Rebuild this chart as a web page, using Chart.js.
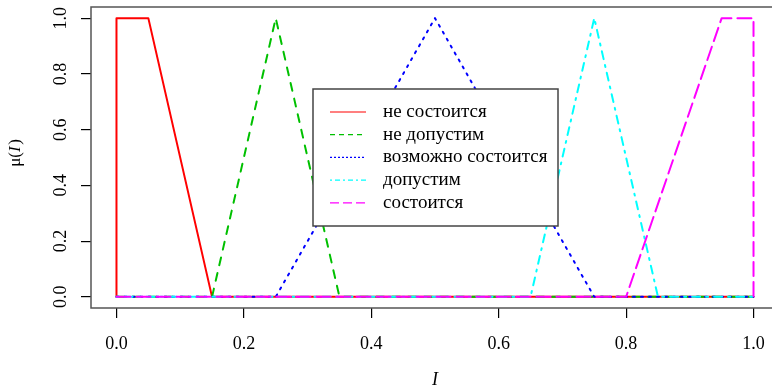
<!DOCTYPE html>
<html>
<head>
<meta charset="utf-8">
<script src="https://cdn.jsdelivr.net/npm/chart.js@4.4.0/dist/chart.umd.min.js"></script>
<style>
  html, body { margin: 0; padding: 0; background: #fff; overflow: hidden; }
  #wrap { width: 772px; height: 388px; overflow: hidden; }
</style>
</head>
<body>
<div id="wrap"><canvas id="fuzzyChart" width="779" height="388"></canvas></div>
<script>
// Данные функций принадлежности (точки излома)
const seriesNames = ["не состоится", "не допустим", "возможно состоится", "допустим", "состоится"];
const xNeSostoitsya = [0, 0, 0.05, 0.15, 1];
const yNeSostoitsya = [0, 1, 1, 0, 0];
const xNeDopustim = [0, 0.15, 0.25, 0.35, 1];
const yNeDopustim = [0, 0, 1, 0, 0];
const xVozmozhno = [0, 0.25, 0.5, 0.75, 1];
const yVozmozhno = [0, 0, 1, 0, 0];
const xDopustim = [0, 0.65, 0.75, 0.85, 1];
const yDopustim = [0, 0, 1, 0, 0];
const xSostoitsya = [0, 0.8, 0.95, 1, 1];
const ySostoitsya = [0, 0, 1, 1, 0];

const xTicks = [0, 0.2, 0.4, 0.6, 0.8, 1.0];
const yTicks = [0, 0.2, 0.4, 0.6, 0.8, 1.0];

const seriesX = [xNeSostoitsya, xNeDopustim, xVozmozhno, xDopustim, xSostoitsya];
const seriesY = [yNeSostoitsya, yNeDopustim, yVozmozhno, yDopustim, ySostoitsya];
const colors = ['#FF0000', '#00C000', '#0000FF', '#00FFFF', '#FF00FF'];
const dashes = [[], [8, 8], [2, 6], [2, 6, 8, 6], [14, 6]];
const legendDashes = [[], [5, 4], [2, 2], [2, 3, 5, 3], [9, 4]];

const serif = "'Liberation Serif', 'DejaVu Serif', serif";

function toPoints(xs, ys) {
    return xs.map((x, i) => ({ x: x, y: ys[i] }));
}

// Рамка вокруг области графика
const boxPlugin = {
    id: 'box',
    afterDraw(chart) {
        const a = chart.chartArea;
        const ctx = chart.ctx;
        ctx.save();
        ctx.strokeStyle = '#555';
        ctx.lineWidth = 1.5;
        ctx.strokeRect(a.left, a.top, a.right - a.left, a.bottom - a.top);
        ctx.restore();
    }
};

// Легенда внутри графика (как в R)
const legendPlugin = {
    id: 'rLegend',
    afterDraw(chart) {
        const ctx = chart.ctx;
        const x0 = 313, y0 = 89, w = 245, h = 137;
        ctx.save();
        ctx.fillStyle = '#fff';
        ctx.fillRect(x0, y0, w, h);
        ctx.strokeStyle = '#444';
        ctx.lineWidth = 1.5;
        ctx.strokeRect(x0, y0, w, h);
        ctx.font = '19px ' + serif;
        ctx.textBaseline = 'middle';
        ctx.textAlign = 'left';
        chart.data.datasets.forEach((ds, i) => {
            const yy = y0 + 23 + i * 22.7;
            ctx.strokeStyle = ds.borderColor;
            ctx.lineWidth = 1.2;
            ctx.setLineDash(legendDashes[i]);
            ctx.beginPath();
            ctx.moveTo(330, yy);
            ctx.lineTo(366, yy);
            ctx.stroke();
            ctx.setLineDash([]);
            ctx.fillStyle = '#000';
            ctx.fillText(ds.label, 383, yy);
        });
        ctx.restore();
    }
};

// Подпись оси Y: μ(I) с курсивной I
const yTitlePlugin = {
    id: 'yTitle',
    afterDraw(chart) {
        const ctx = chart.ctx;
        ctx.save();
        ctx.translate(16, 153);
        ctx.rotate(-Math.PI / 2);
        ctx.fillStyle = '#000';
        ctx.textBaseline = 'middle';
        const parts = [['μ(', '17px ' + serif], ['I', 'italic 17px ' + serif], [')', '17px ' + serif]];
        let total = 0;
        parts.forEach(p => { ctx.font = p[1]; total += ctx.measureText(p[0]).width + (p[0] === 'I' ? 1.5 : 0); });
        let x = -total / 2;
        parts.forEach(p => {
            ctx.font = p[1];
            ctx.fillText(p[0], x, 0);
            x += ctx.measureText(p[0]).width + (p[0] === 'I' ? 1.5 : 0);
        });
        ctx.restore();
    }
};

const ctx = document.getElementById('fuzzyChart').getContext('2d');
const chart = new Chart(ctx, {
    type: 'scatter',
    data: {
        datasets: seriesNames.map((name, i) => ({
            label: name,
            data: toPoints(seriesX[i], seriesY[i]),
            showLine: true,
            order: seriesNames.length - i,
            borderColor: colors[i],
            backgroundColor: colors[i],
            borderWidth: 2,
            borderDash: dashes[i],
            borderCapStyle: 'round',
            borderJoinStyle: 'round',
            pointRadius: 0,
            tension: 0
        }))
    },
    options: {
        responsive: false,
        animation: false,
        devicePixelRatio: 1,
        layout: { padding: { top: 7, right: 0, left: 0, bottom: 0 } },
        plugins: {
            legend: { display: false },
            tooltip: { enabled: false }
        },
        scales: {
            x: {
                type: 'linear',
                min: -0.04,
                max: 1.04,
                afterBuildTicks(scale) { scale.ticks = xTicks.map(v => ({ value: v })); },
                afterFit(scale) {
                    scale.height = 80;
                    scale.paddingLeft = 0;
                    scale.paddingRight = 0;
                },
                border: { display: false },
                grid: { drawOnChartArea: false, drawTicks: true, tickLength: 10, color: '#000', lineWidth: 1.2 },
                ticks: {
                    color: '#000',
                    font: { family: serif, size: 18 },
                    padding: 15,
                    maxRotation: 0,
                    callback: v => v.toFixed(1)
                },
                title: {
                    display: true,
                    text: 'I',
                    color: '#000',
                    font: { family: serif, size: 18, style: 'italic' },
                    padding: { top: 0, bottom: -3 }
                }
            },
            y: {
                type: 'linear',
                min: -0.04,
                max: 1.04,
                afterBuildTicks(scale) { scale.ticks = yTicks.map(v => ({ value: v })); },
                afterFit(scale) {
                    scale.width = 91;
                    scale.paddingTop = 0;
                    scale.paddingBottom = 0;
                },
                border: { display: false },
                grid: { drawOnChartArea: false, drawTicks: true, tickLength: 10, color: '#000', lineWidth: 1.2 },
                ticks: {
                    color: '#000',
                    font: { family: serif, size: 18 },
                    padding: 8,
                    minRotation: 90,
                    maxRotation: 90,
                    crossAlign: 'center',
                    callback: v => v.toFixed(1)
                }
            }
        }
    },
    plugins: [boxPlugin, legendPlugin, yTitlePlugin]
});
</script>
</body>
</html>
